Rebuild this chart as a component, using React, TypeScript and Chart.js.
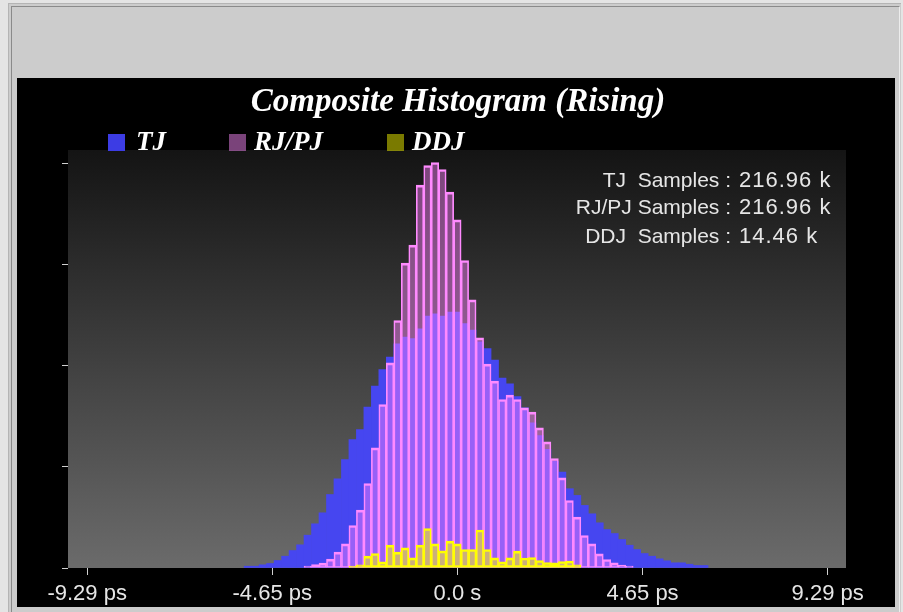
import React, { useEffect, useRef } from 'react';
import { Chart, registerables } from 'chart.js';

Chart.register(...registerables);

// ---------- data ----------
const TITLE = 'Composite Histogram (Rising)';
const SERIES_LABELS = ['TJ', 'RJ/PJ', 'DDJ'];
const SAMPLE_LABELS = ['TJ  Samples :', 'RJ/PJ Samples :', 'DDJ  Samples :'];
const SAMPLE_VALUES = ['216.96 k', '216.96 k', '14.46 k'];

// histogram bin width (ps); bins are centred on multiples of it
const BIN_WIDTH_PS = 0.1877;

// TJ: bins -28 .. 33
const TJ_FIRST_BIN = -28;
const TJ = [
  1.8, 1.8, 3.2, 4.5, 7.5,
  11.8, 17.5, 23.2, 32.8, 44.2,
  55.2, 73.5, 89.2, 108.5, 128.5,
  138.5, 160.8, 181.8, 198.5, 210.8,
  224.2, 230.8, 229.5, 239.2, 251.8,
  254.2, 251.8, 255.8, 255.8, 244.5,
  237.8, 226.2, 219.5, 207.8, 190,
  184.2, 171.3, 160.2, 145.2, 132.5,
  118.7, 106.7, 96, 79.3, 72.6,
  62.6, 54.2, 45.2, 38.5, 34.5,
  28.5, 22.8, 18.5, 14.5, 11.8,
  9.2, 7.2, 5.2, 5.2, 3.8,
  2.5, 2.5,
];

// RJ/PJ: bins -20 .. 23
const RJPJ_FIRST_BIN = -20;
const RJPJ = [
  1.8, 3.5, 4.8, 8.8, 15.8,
  24.2, 42.5, 57.8, 84.5, 120.2,
  163.5, 205.2, 247.5, 304.8, 322.8,
  382.8, 402.5, 405.5, 398.5, 375.8,
  348.2, 307.5, 268.2, 230.2, 203.8,
  186.8, 168.5, 172.8, 168.5, 160.2,
  155.8, 140.2, 126.2, 109.5, 90.2,
  67.5, 50.8, 32.5, 24.2, 14.2,
  8.5, 5.2, 2.8, 1.8,
];

// DDJ: bins -14 .. 16
const DDJ_FIRST_BIN = -14;
const DDJ = [
  1.8, 3.2, 11.8, 14.5, 6.2,
  22.8, 15.8, 20.2, 10.2, 22.8,
  39.5, 24.2, 17.2, 26.8, 24.2,
  18.5, 18.5, 38, 18.5, 10.2,
  6.2, 10.2, 16.8, 10, 10.5,
  7.5, 5.5, 5.2, 6.5, 7,
  3.2,
];

const X_MIN = -9.77;
const X_MAX = 9.75;
const X_TICKS = [-9.29, -4.645, 0, 4.645, 9.29];
const X_TICK_LABELS = ['-9.29 ps', '-4.65 ps', '0.0 s', '4.65 ps', '9.29 ps'];
const Y_MAX = 418;
const Y_TICKS = [0, 101.25, 202.5, 303.75, 405];

const toPoints = (vals: number[], first: number) =>
  vals.map((v, i) => ({ x: (first + i) * BIN_WIDTH_PS, y: v }));

const decorPlugin = {
  id: 'decor',
  beforeDraw(chart: any) {
    const { ctx, chartArea } = chart;
    ctx.save();
    ctx.fillStyle = '#000';
    ctx.fillRect(0, 0, chart.width, chart.height);
    const g = ctx.createLinearGradient(0, chartArea.top, 0, chartArea.bottom);
    g.addColorStop(0, '#141414');
    g.addColorStop(1, '#6b6b6b');
    ctx.fillStyle = g;
    ctx.fillRect(chartArea.left, chartArea.top, chartArea.right - chartArea.left, chartArea.bottom - chartArea.top);
    ctx.restore();
  },
  afterDraw(chart: any) {
    const { ctx } = chart;
    ctx.save();
    // title
    ctx.fillStyle = '#ffffff';
    ctx.font = 'italic bold 33px "Liberation Serif"';
    ctx.textAlign = 'center';
    ctx.textBaseline = 'alphabetic';
    ctx.fillText(TITLE, 441, 33);
    // legend
    const boxX = [91, 212, 370];
    const textOff = [28, 25, 25];
    ctx.font = 'italic bold 27px "Liberation Serif"';
    ctx.textAlign = 'left';
    chart.data.datasets.forEach((ds: any, i: number) => {
      ctx.fillStyle = ds.legendColor;
      ctx.fillRect(boxX[i], 56, 17, 17);
      ctx.fillStyle = '#ffffff';
      ctx.fillText(SERIES_LABELS[i], boxX[i] + textOff[i], 72);
    });
    // sample counts
    ctx.fillStyle = '#e6e6e6';
    const baselines = [108.7, 136.3, 164.7];
    SAMPLE_LABELS.forEach((lab, i) => {
      ctx.font = '21px "Liberation Sans"';
      ctx.textAlign = 'right';
      ctx.fillText(lab, 714, baselines[i]);
      ctx.textAlign = 'left';
      ctx.font = '22px "Liberation Sans"';
      try { (ctx as any).letterSpacing = '1px'; } catch (e) { /* ignore */ }
      ctx.fillText(SAMPLE_VALUES[i], 722, baselines[i]);
      try { (ctx as any).letterSpacing = '0px'; } catch (e) { /* ignore */ }
    });
    ctx.restore();
  },
};

export default function App() {
  const ref = useRef<HTMLCanvasElement | null>(null);

  useEffect(() => {
    if (!ref.current) return;
    const common = { grouped: false, barPercentage: 1, categoryPercentage: 1 };
    const chart = new Chart(ref.current, {
      type: 'bar',
      data: {
        datasets: [
          {
            ...common,
            label: SERIES_LABELS[0],
            data: toPoints(TJ, TJ_FIRST_BIN),
            backgroundColor: '#4646f0',
            legendColor: '#3c3ce4',
            borderWidth: 0,
            order: 3,
          } as any,
          {
            ...common,
            label: SERIES_LABELS[1],
            data: toPoints(RJPJ, RJPJ_FIRST_BIN),
            backgroundColor: 'rgba(255,130,255,0.44)',
            legendColor: 'rgba(255,140,255,0.48)',
            borderColor: '#ff8cff',
            borderWidth: { top: 2, left: 1, right: 1, bottom: 1 },
            borderSkipped: false,
            order: 2,
          } as any,
          {
            ...common,
            label: SERIES_LABELS[2],
            data: toPoints(DDJ, DDJ_FIRST_BIN),
            backgroundColor: 'rgba(255,255,0,0.5)',
            legendColor: 'rgba(255,255,0,0.48)',
            borderColor: '#ffff00',
            borderWidth: { top: 2, left: 1, right: 1, bottom: 2 },
            borderSkipped: false,
            order: 1,
          } as any,
        ],
      },
      options: {
        animation: false,
        responsive: false,
        devicePixelRatio: 1,
        layout: { padding: { top: 72, right: 49, left: 0, bottom: 0 } },
        plugins: {
          legend: { display: false },
          title: { display: false },
          tooltip: { enabled: false },
        },
        scales: {
          x: {
            type: 'linear',
            min: X_MIN,
            max: X_MAX,
            offset: false,
            afterBuildTicks: (s: any) => {
              s.ticks = X_TICKS.map((v) => ({ value: v }));
            },
            afterFit: (s: any) => {
              s.height = 39;
            },
            ticks: {
              callback: (_v: any, i: number) => X_TICK_LABELS[i],
              color: '#e6e6e6',
              font: { family: '"Liberation Sans"', size: 22 },
              maxRotation: 0,
              minRotation: 0,
              autoSkip: false,
              padding: 6,
            },
            grid: {
              offset: false,
              drawOnChartArea: false,
              drawTicks: true,
              tickLength: 7,
              color: '#d0d0d0',
              lineWidth: 1,
            },
            border: { display: false },
          },
          y: {
            type: 'linear',
            min: 0,
            max: Y_MAX,
            afterBuildTicks: (s: any) => {
              s.ticks = Y_TICKS.map((v) => ({ value: v }));
            },
            afterFit: (s: any) => {
              s.width = 51;
            },
            ticks: { display: false },
            grid: {
              offset: false,
              drawOnChartArea: false,
              drawTicks: true,
              tickLength: 6,
              color: '#d0d0d0',
              lineWidth: 1,
            },
            border: { display: false },
          },
        },
      } as any,
      plugins: [decorPlugin],
    });
    return () => chart.destroy();
  }, []);

  return (
    <div style={{ position: 'relative', width: 903, height: 612, overflow: 'hidden', background: '#e4e4e4' }}>
      <style>{'body{margin:0;}'}</style>
      <div
        style={{
          position: 'absolute', left: 8, top: 3, width: 893, height: 640,
          background: '#cccccc', borderLeft: '1px solid #b4b4b4', borderTop: '1px solid #b4b4b4',
          boxSizing: 'border-box',
        }}
      />
      <div
        style={{
          position: 'absolute', left: 11, top: 6, width: 889, height: 640,
          borderLeft: '1px solid #8a8a8a', borderTop: '1px solid #8a8a8a', borderRight: '1px solid #ececec',
          boxSizing: 'border-box',
        }}
      />
      <canvas
        ref={ref}
        width={878}
        height={529}
        style={{ position: 'absolute', left: 17, top: 78, width: 878, height: 529, background: '#000' }}
      />
    </div>
  );
}
